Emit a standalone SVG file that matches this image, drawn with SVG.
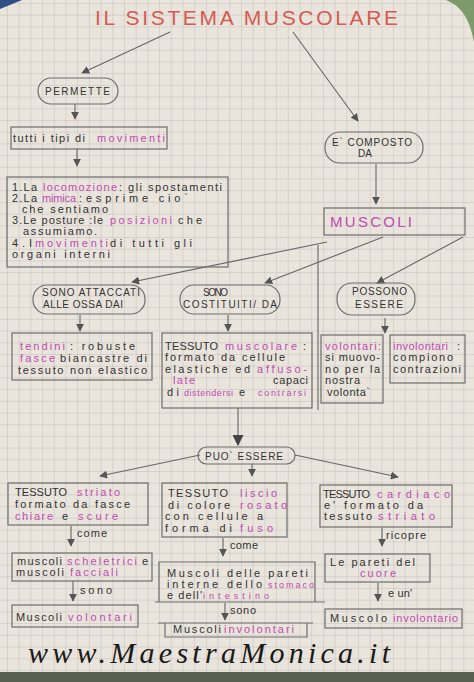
<svg xmlns="http://www.w3.org/2000/svg" width="474" height="682" viewBox="0 0 474 682">
<defs>
<pattern id="grid" width="11.7" height="11.7" patternUnits="userSpaceOnUse" x="7" y="3">
<path d="M0 0H11.7M0 0V11.7" stroke="#bcb7b2" stroke-width="0.8" fill="none"/>
</pattern>
<marker id="ah" viewBox="0 0 10 10" refX="9" refY="5" markerWidth="8" markerHeight="8" markerUnits="userSpaceOnUse" orient="auto">
<path d="M0,0 L10,5 L0,10 z" fill="#555"/>
</marker>
<marker id="ahb" viewBox="0 0 10 10" refX="9" refY="5" markerWidth="11" markerHeight="11" markerUnits="userSpaceOnUse" orient="auto">
<path d="M0,0 L10,5 L0,10 z" fill="#444"/>
</marker>
</defs>
<style>
.t{font-family:"Liberation Sans",Arial,sans-serif;font-size:11px;fill:#333}
.u{font-size:10px}
.s{font-size:9px}
.m{fill:#c04cb2}
.box{fill:none;stroke:#6e6e6e;stroke-width:1.2}
.c{stroke:#666;stroke-width:1.1;fill:none}
</style>
<rect width="474" height="682" fill="#e9e4dc"/>
<rect width="474" height="682" fill="url(#grid)"/>
<path d="M0 0H22L0 9Z" fill="#2d4f86"/>
<path d="M446 0H474V42C470 20 462 6 446 0Z" fill="#7d9a6c"/>
<rect y="672" width="474" height="10" fill="#56614f"/>

<text id="title" class="t" x="95" y="25" style="font-size:21px;fill:#d65a50" textLength="303">IL SISTEMA MUSCOLARE</text>

<g id="connectors">
<line class="c" x1="170" y1="32" x2="82" y2="73" marker-end="url(#ah)"/>
<line class="c" x1="293" y1="32" x2="358" y2="121" marker-end="url(#ah)"/>
<line class="c" x1="75" y1="104" x2="75" y2="119" marker-end="url(#ah)"/>
<line class="c" x1="77" y1="149" x2="77" y2="166" marker-end="url(#ah)"/>
<line class="c" x1="376" y1="164" x2="376" y2="204" marker-end="url(#ah)"/>
<line class="c" x1="327" y1="242" x2="132" y2="282" marker-end="url(#ah)"/>
<line class="c" x1="383" y1="237" x2="265" y2="283" marker-end="url(#ah)"/>
<line class="c" x1="463" y1="237" x2="377" y2="283" marker-end="url(#ah)"/>
<line class="c" x1="80" y1="315" x2="80" y2="331" marker-end="url(#ah)"/>
<line class="c" x1="228" y1="315" x2="228" y2="331" marker-end="url(#ah)"/>
<line class="c" x1="385" y1="318" x2="385" y2="333" marker-end="url(#ah)"/>
<line class="c" x1="318" y1="245" x2="318" y2="410"/>
<line class="c" x1="238" y1="408" x2="238" y2="445" marker-end="url(#ahb)"/>
<line class="c" x1="200" y1="455" x2="100" y2="476" marker-end="url(#ah)"/>
<line class="c" x1="295" y1="455" x2="398" y2="477" marker-end="url(#ah)"/>
<line class="c" x1="252" y1="464" x2="252" y2="476" marker-end="url(#ah)"/>
<line class="c" x1="71" y1="526" x2="71" y2="546" marker-end="url(#ah)"/>
<line class="c" x1="223" y1="538" x2="223" y2="556" marker-end="url(#ah)"/>
<line class="c" x1="382" y1="528" x2="382" y2="546" marker-end="url(#ah)"/>
<line class="c" x1="73" y1="581" x2="73" y2="601" marker-end="url(#ah)"/>
<line class="c" x1="225" y1="603" x2="225" y2="620" marker-end="url(#ah)"/>
<line class="c" x1="378" y1="583" x2="378" y2="601" marker-end="url(#ah)"/>
<text class="t" x="77" y="537" textLength="30">come</text>
<text class="t" x="230" y="549" textLength="28">come</text>
<text class="t" x="386" y="539" textLength="40">ricopre</text>
<text class="t" x="80" y="594" textLength="32">sono</text>
<text class="t" x="230" y="614" textLength="26">sono</text>
<text class="t" x="388" y="597" textLength="24">e un'</text>
</g>

<g id="permette">
<rect class="box" x="38" y="78" width="80" height="26" rx="13"/>
<text class="t u" x="45" y="95" textLength="65">PERMETTE</text>
</g>

<g id="movimenti">
<rect class="box" x="11" y="127" width="156" height="22"/>
<text class="t" y="142"><tspan x="13" textLength="72">tutti i tipi di</tspan><tspan class="m" x="97" textLength="68">movimenti</tspan></text>
</g>

<g id="lista">
<rect class="box" x="7" y="177" width="221" height="90"/>
<text class="t" y="191"><tspan x="12" textLength="25">1.La</tspan><tspan class="m" x="43" textLength="74">locomozione</tspan><tspan x="119" textLength="103">: gli spostamenti</tspan></text>
<text class="t" y="202"><tspan x="12" textLength="25">2.La</tspan><tspan class="m" x="42" textLength="34">mimica</tspan><tspan x="79" textLength="109">:esprime cio`</tspan></text>
<text class="t" x="22" y="213" textLength="86">che sentiamo</text>
<text class="t" y="224"><tspan x="12" textLength="91">3.Le posture :le</tspan><tspan class="m" x="110" textLength="62">posizioni</tspan><tspan x="178" textLength="24">che</tspan></text>
<text class="t" x="23" y="235" textLength="74">assumiamo.</text>
<text class="t" y="247"><tspan x="12" textLength="20">4.I</tspan><tspan class="m" x="35" textLength="73">movimenti</tspan><tspan x="110" textLength="82">di tutti gli</tspan></text>
<text class="t" x="12" y="258" textLength="98">organi interni</text>
</g>

<g id="composto">
<rect class="box" x="325" y="132" width="98" height="31" rx="15"/>
<text class="t u" x="332" y="146" textLength="80">E` COMPOSTO</text>
<text class="t u" x="358" y="157" textLength="14">DA</text>
</g>

<g id="muscoli">
<rect class="box" x="324" y="208" width="141" height="27"/>
<text class="t m" x="330" y="227" style="font-size:15px" textLength="82">MUSCOLI</text>
</g>

<g id="attaccati">
<rect class="box" x="33" y="285" width="112" height="29" rx="14"/>
<text class="t u" x="42" y="296" textLength="98">SONO ATTACCATI</text>
<text class="t u" x="43" y="308" textLength="80">ALLE OSSA DAI</text>
</g>

<g id="costituiti">
<rect class="box" x="180" y="285" width="100" height="29" rx="14"/>
<text class="t u" x="203" y="296" textLength="25">SONO</text>
<text class="t u" x="183" y="308" textLength="94">COSTITUITI/ DA</text>
</g>

<g id="possono">
<rect class="box" x="337" y="283" width="78" height="32" rx="15"/>
<text class="t u" x="352" y="295" textLength="55">POSSONO</text>
<text class="t u" x="355" y="308" textLength="48">ESSERE</text>
</g>

<g id="tendini">
<rect class="box" x="12" y="333" width="140" height="47"/>
<text class="t" y="350"><tspan class="m" x="20" textLength="45">tendini</tspan><tspan x="70" textLength="65">: robuste</tspan></text>
<text class="t" y="362"><tspan class="m" x="20" textLength="35">fasce</tspan><tspan x="60" textLength="87">biancastre di</tspan></text>
<text class="t" x="18" y="374" textLength="129">tessuto non elastico</text>
</g>

<g id="tessuto-muscolare">
<rect class="box" x="162" y="333" width="150" height="75"/>
<text class="t" y="350"><tspan x="165" textLength="53">TESSUTO</tspan><tspan class="m" x="225" textLength="72">muscolare</tspan><tspan x="303">:</tspan></text>
<text class="t" x="165" y="361" textLength="120">formato da cellule</text>
<text class="t" y="373"><tspan x="165" textLength="85">elastiche ed</tspan><tspan class="m" x="257" textLength="50">affuso-</tspan></text>
<text class="t" y="384"><tspan class="m" x="173" textLength="22">late</tspan><tspan x="273" textLength="35">capaci</tspan></text>
<text class="t" y="396"><tspan x="167" textLength="12">di</tspan><tspan class="m s" x="184" textLength="49">distendersi</tspan><tspan x="239">e</tspan><tspan class="m s" x="258" textLength="48">contrarsi</tspan></text>
</g>

<g id="volontari">
<rect class="box" x="321" y="335" width="62" height="68"/>
<text class="t m" x="325" y="350" textLength="56">volontari:</text>
<text class="t" x="325" y="361" textLength="55">si muovo-</text>
<text class="t" x="325" y="373" textLength="55">no per la</text>
<text class="t" x="325" y="384" textLength="35">nostra</text>
<text class="t" x="327" y="396" textLength="43">volonta`</text>
</g>

<g id="involontari">
<rect class="box" x="390" y="335" width="75" height="48"/>
<text class="t" y="350"><tspan class="m" x="393" textLength="55">involontari</tspan><tspan x="457">:</tspan></text>
<text class="t" x="393" y="361" textLength="60">compiono</text>
<text class="t" x="393" y="373" textLength="68">contrazioni</text>
</g>

<g id="puo-essere">
<rect class="box" x="198" y="447" width="97" height="17" rx="8.5"/>
<text class="t u" x="205" y="460" textLength="78">PUO` ESSERE</text>
</g>

<g id="striato">
<rect class="box" x="8" y="483" width="140" height="42"/>
<text class="t" y="496"><tspan x="15" textLength="52">TESSUTO</tspan><tspan class="m" x="77" textLength="43">striato</tspan></text>
<text class="t" x="15" y="508" textLength="115">formato da fasce</text>
<text class="t" y="520"><tspan class="m" x="15" textLength="38">chiare</tspan><tspan x="62">e</tspan><tspan class="m" x="78" textLength="40">scure</tspan></text>
</g>

<g id="liscio">
<rect class="box" x="162" y="483" width="125" height="54"/>
<text class="t" y="497"><tspan x="168" textLength="60">TESSUTO</tspan><tspan class="m" x="240" textLength="37">liscio</tspan></text>
<text class="t" y="509"><tspan x="168" textLength="62">di colore</tspan><tspan class="m" x="240" textLength="47">rosato</tspan></text>
<text class="t" x="165" y="520" textLength="98">con cellule a</text>
<text class="t" y="532"><tspan x="165" textLength="67">forma di</tspan><tspan class="m" x="240" textLength="33">fuso</tspan></text>
</g>

<g id="cardiaco">
<rect class="box" x="320" y="485" width="132" height="42"/>
<text class="t" y="498"><tspan x="323" textLength="47">TESSUTO</tspan><tspan class="m" x="377" textLength="73">cardiaco</tspan></text>
<text class="t" x="324" y="509" textLength="99">e' formato da</text>
<text class="t" y="520"><tspan x="324" textLength="48">tessuto</tspan><tspan class="m" x="378" textLength="57">striato</tspan></text>
</g>

<g id="scheletrici">
<rect class="box" x="12" y="553" width="140" height="28"/>
<text class="t" y="565"><tspan x="17" textLength="45">muscoli</tspan><tspan class="m" x="67" textLength="70">scheletrici</tspan><tspan x="142">e</tspan></text>
<text class="t" y="576"><tspan x="16" textLength="48">muscoli</tspan><tspan class="m" x="70" textLength="48">facciali</tspan></text>
</g>

<g id="muscoli-volontari">
<rect class="box" x="12" y="605" width="126" height="22"/>
<text class="t" y="621"><tspan x="16" textLength="46">Muscoli</tspan><tspan class="m" x="68" textLength="64">volontari</tspan></text>
</g>

<g id="pareti-interne">
<path class="box" d="M159 602V562H315V602M155 602H325"/>
<text class="t" x="167" y="577" textLength="141">Muscoli delle pareti</text>
<text class="t" y="588"><tspan x="167" textLength="95">interne dello</tspan><tspan class="m s" x="268" textLength="46">stomaco</tspan></text>
<text class="t" y="599"><tspan x="167" textLength="35">e dell'</tspan><tspan class="m s" x="203" textLength="66">intestino</tspan></text>
</g>

<g id="muscoli-involontari">
<path class="box" d="M158 623H313M165 623V637H307V623"/>
<text class="t" y="633"><tspan x="173" textLength="48">Muscoli</tspan><tspan class="m" x="224" textLength="70">involontari</tspan></text>
</g>

<g id="pareti-cuore">
<rect class="box" x="325" y="554" width="105" height="28"/>
<text class="t" x="330" y="566" textLength="85">Le pareti del</text>
<text class="t m" x="360" y="577" textLength="36">cuore</text>
</g>

<g id="muscolo-involontario">
<rect class="box" x="325" y="609" width="137" height="19"/>
<text class="t" y="622"><tspan x="330" textLength="57">Muscolo</tspan><tspan class="m" x="393" textLength="65">involontario</tspan></text>
</g>

<text id="watermark" x="28" y="663" textLength="362" style="font-family:'Liberation Serif','DejaVu Serif',serif;font-style:italic;font-size:30px;fill:#1a1a1a">www.MaestraMonica.it</text>
</svg>
